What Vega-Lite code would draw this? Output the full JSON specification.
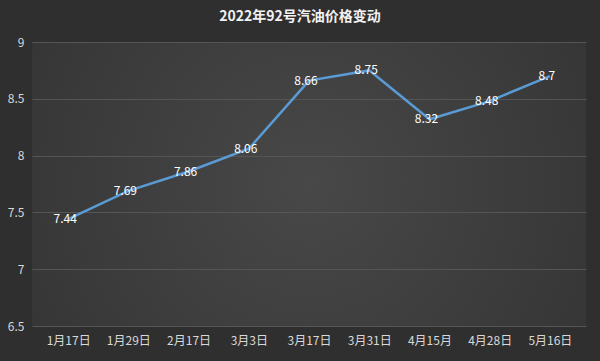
{
  "$schema": "https://vega.github.io/schema/vega-lite/v6.json",
  "width": 554,
  "height": 284,
  "autosize": {"type": "none"},
  "padding": {"left": 32, "top": 42, "right": 14, "bottom": 35},
  "background": "#2f2f2f",
  "config": {
    "font": "Noto Sans CJK SC",
    "view": {
      "stroke": null,
      "fill": {
        "gradient": "radial",
        "x1": 0.5, "y1": 0.5, "r1": 0,
        "x2": 0.5, "y2": 0.5, "r2": 0.75,
        "stops": [
          {"offset": 0, "color": "#484848"},
          {"offset": 1, "color": "#303030"}
        ]
      }
    }
  },
  "title": {
    "text": "2022年92号汽油价格变动",
    "color": "#f2f2f2",
    "fontSize": 14,
    "fontWeight": "bold",
    "anchor": "middle",
    "dx": -9,
    "offset": 12
  },
  "data": {
    "values": [
      {"date": "1月17日", "price": 7.44},
      {"date": "1月29日", "price": 7.69},
      {"date": "2月17日", "price": 7.86},
      {"date": "3月3日", "price": 8.06},
      {"date": "3月17日", "price": 8.66},
      {"date": "3月31日", "price": 8.75},
      {"date": "4月15月", "price": 8.32},
      {"date": "4月28日", "price": 8.48},
      {"date": "5月16日", "price": 8.7}
    ]
  },
  "encoding": {
    "x": {
      "field": "date",
      "type": "ordinal",
      "sort": null,
      "scale": {"type": "point", "padding": 0.6},
      "axis": {
        "title": null,
        "labelAngle": 0,
        "labelColor": "#d9d9d9",
        "labelFontSize": 12,
        "labelPadding": 9,
        "domain": false,
        "ticks": false,
        "grid": false
      }
    },
    "y": {
      "field": "price",
      "type": "quantitative",
      "scale": {"domain": [6.5, 9], "nice": false, "zero": false},
      "axis": {
        "title": null,
        "values": [6.5, 7, 7.5, 8, 8.5, 9],
        "format": ".1~f",
        "labelColor": "#d9d9d9",
        "labelFontSize": 12,
        "labelPadding": 8,
        "domain": false,
        "ticks": false,
        "gridColor": "#555555",
        "gridWidth": 1
      }
    }
  },
  "layer": [
    {
      "mark": {"type": "line", "color": "#5b9bd5", "strokeWidth": 2.5}
    },
    {
      "mark": {"type": "text", "color": "#ffffff", "fontSize": 12, "dx": -3},
      "encoding": {"text": {"field": "price", "type": "quantitative"}}
    }
  ]
}
